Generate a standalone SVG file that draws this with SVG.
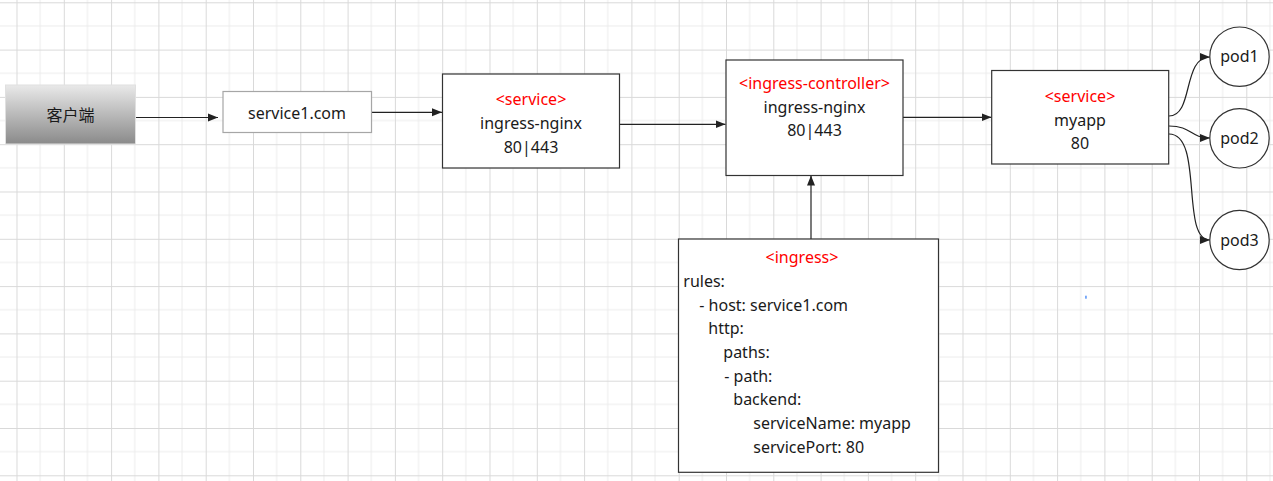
<svg xmlns="http://www.w3.org/2000/svg" width="1273" height="481" viewBox="0 0 1273 481">
<style>
text{font-family:"Noto Sans","Noto Sans CJK SC",sans-serif;font-size:16px;fill:#1a1a1a}
.c{text-anchor:middle}
.red{fill:#ff0000}
.box{fill:#ffffff;stroke:#333333;stroke-width:1.2}
.conn path,.conn line{fill:none;stroke:#222222;stroke-width:1.2}
.pod{fill:#ffffff;stroke:#333333;stroke-width:1.2}
</style>
<defs>
<pattern id="grid" patternUnits="userSpaceOnUse" x="16.5" y="2.3" width="47.3" height="47.3">
<path d="M23.65 0V47.3M0 23.65H47.3" stroke="#ececec" stroke-width="1" fill="none"/>
<path d="M0.5 0V47.3M0 0.5H47.3" stroke="#d9d9d9" stroke-width="1" fill="none"/>
</pattern>
<linearGradient id="gray" x1="0" y1="0" x2="0" y2="1">
<stop offset="0" stop-color="#e9e9e9"/>
<stop offset="1" stop-color="#8a8a8a"/>
</linearGradient>
<marker id="arr" viewBox="0 0 10 10" refX="10" refY="5" markerWidth="10" markerHeight="10" markerUnits="userSpaceOnUse" orient="auto">
<path d="M0 1L10 5L0 9Z" fill="#222222"/>
</marker>
</defs>
<rect width="1273" height="481" fill="#ffffff"/>
<rect width="1273" height="481" fill="url(#grid)"/>

<g class="conn" id="connectors">
<line x1="135.5" y1="117.5" x2="218" y2="117.5" marker-end="url(#arr)"/>
<line x1="371.5" y1="112.3" x2="442" y2="112.3" marker-end="url(#arr)"/>
<line x1="619.5" y1="124.3" x2="725.5" y2="124.3" marker-end="url(#arr)"/>
<line x1="903" y1="117.3" x2="991.5" y2="117.3" marker-end="url(#arr)"/>
<line x1="811" y1="239" x2="811" y2="175.5" marker-end="url(#arr)"/>
<path d="M1169 116C1194 116 1182 57 1210 57" marker-end="url(#arr)"/>
<path d="M1169 126C1192 126 1190 138 1210 138" marker-end="url(#arr)"/>
<path d="M1169 134C1204 134 1180 240 1210 240" marker-end="url(#arr)"/>
</g>

<g id="client">
<rect x="5.5" y="85" width="130" height="59" fill="url(#gray)" stroke="#e0e0e0" stroke-width="1"/>
<text class="c" x="70.5" y="120.5">客户端</text>
</g>

<g id="domain">
<rect x="223" y="91.5" width="148.5" height="41" fill="#ffffff" stroke="#a6a6a6" stroke-width="1.2"/>
<text class="c" x="297" y="118.5">service1.com</text>
</g>

<g id="svc-ingress-nginx">
<rect class="box" x="442.5" y="74" width="177" height="94"/>
<text class="c red" x="531" y="104.5">&lt;service&gt;</text>
<text class="c" x="531" y="128.5">ingress-nginx</text>
<text class="c" x="531" y="152.5">80|443</text>
</g>

<g id="ingress-controller">
<rect class="box" x="726" y="60" width="177" height="115.5"/>
<text class="c red" x="814.5" y="88.5">&lt;ingress-controller&gt;</text>
<text class="c" x="814.5" y="112.5">ingress-nginx</text>
<text class="c" x="814.5" y="136">80|443</text>
</g>

<g id="svc-myapp">
<rect class="box" x="991.7" y="70.5" width="177" height="93.5"/>
<text class="c red" x="1080" y="101.5">&lt;service&gt;</text>
<text class="c" x="1080" y="125.5">myapp</text>
<text class="c" x="1080" y="148.5">80</text>
</g>

<g id="pod1">
<circle class="pod" cx="1239.5" cy="56.7" r="29.7"/>
<text class="c" x="1239.5" y="62">pod1</text>
</g>
<g id="pod2">
<circle class="pod" cx="1239.5" cy="138.3" r="29.7"/>
<text class="c" x="1239.5" y="143.5">pod2</text>
</g>
<g id="pod3">
<circle class="pod" cx="1239.5" cy="240" r="29.7"/>
<text class="c" x="1239.5" y="245.5">pod3</text>
</g>

<g id="ingress">
<rect class="box" x="678.5" y="239" width="260" height="233.3"/>
<text class="c red" x="802" y="263">&lt;ingress&gt;</text>
<text x="683.3" y="287">rules:</text>
<text x="699.3" y="310.5">-  host: service1.com</text>
<text x="708.3" y="334">http:</text>
<text x="723.3" y="358">paths:</text>
<text x="724.3" y="381.5">-  path:</text>
<text x="733.3" y="405">backend:</text>
<text x="753.3" y="429">serviceName: myapp</text>
<text x="753.3" y="452.5">servicePort: 80</text>
</g>

<rect x="1085.3" y="295.7" width="1.3" height="3" fill="#3b82f6"/>
</svg>
